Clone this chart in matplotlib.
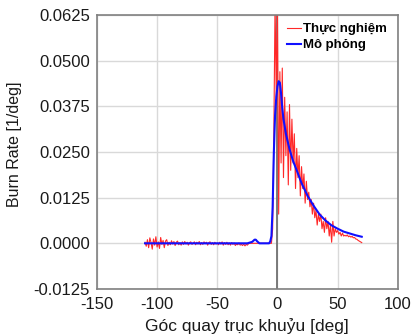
#!/usr/bin/env python3
import matplotlib
matplotlib.use('Agg')
import matplotlib.pyplot as plt
import numpy as np

plt.rcParams['font.family'] = ['Liberation Sans', 'DejaVu Sans']
plt.rcParams['axes.unicode_minus'] = False

# measured burn rate, one value per degree from -110 to 70
exp_angle = np.arange(-110, 71)
exp_rate = [
    0.0003, -0.0008, 0.0010, -0.0012, 0.0015, 0.0002, -0.0016, 0.0012, -0.0005, 0.0018,
    -0.0010, 0.0004, -0.0014, 0.0016, -0.0003, 0.0008, -0.0012, 0.0006, 0.0010, -0.0006,
    0.0003,
    -0.0004, 0.0007, -0.0002, 0.0005, -0.0006, 0.0003, 0.0006, -0.0004, 0.0002, -0.0005,
    0.0004, -0.0003, 0.0005, -0.0002, 0.0003, -0.0005, 0.0002, 0.0004, -0.0003, 0.0001,
    0.0004, -0.0004, 0.0003, -0.0002, 0.0005, -0.0004, 0.0002, -0.0003, 0.0004, -0.0001,
    0.0003, -0.0005, 0.0002, 0.0004, -0.0003, 0.0002, -0.0004, 0.0003, -0.0002, 0.0001,
    -0.0004, 0.0003, -0.0002, 0.0004, -0.0005, 0.0002, -0.0003, 0.0003, -0.0004, 0.0001,
    -0.0005, 0.0002, -0.0003, 0.0001, -0.0006, -0.0002, -0.0004, 0.0001, -0.0005, -0.0003,
    -0.0006, -0.0002, -0.0007, -0.0003, -0.0005, -0.0001, 0.0, 0.0,
    0.0, 0.0, 0.0, 0.0, 0.0, 0.0, 0.0, 0.0, 0.0, 0.0, 0.0, 0.0, 0.0, 0.0, 0.0, 0.0, 0.0,
    0.004, 0.030, 0.066, 0.040, 0.066,
    0.008, 0.047, 0.022, 0.048, 0.018, 0.040, 0.024, 0.036, 0.016, 0.038,
    0.020, 0.034, 0.022, 0.030, 0.015, 0.026, 0.018, 0.024, 0.013, 0.021,
    0.015, 0.019, 0.011, 0.017, 0.012, 0.014, 0.010, 0.012, 0.008, 0.011,
    0.007, 0.009, 0.005, 0.008, 0.006, 0.008, 0.004, 0.006, 0.003, 0.007,
    0.004, 0.006, 0.002, 0.005, 0.0003, 0.006, 0.002, 0.004, 0.003, 0.0035,
    0.0025, 0.003, 0.002, 0.0028, 0.002, 0.0022, 0.002, 0.0023, 0.0018, 0.0020,
    0.0017, 0.0019, 0.0015, 0.0016, 0.0012, 0.0011, 0.0008, 0.0006, 0.0004, 0.0002,
]

# simulated burn rate
sim_angle = [-110, -25, -21, -19, -18, -17, -15, -7, -6, -5, -4, -3, -2, -1, 0, 1, 2, 3, 4, 5,
             7, 10, 13, 16, 20, 25, 30, 35, 40, 45, 50, 55, 60, 65, 70]
sim_rate = [0.0, 0.0, 0.0004, 0.001, 0.001, 0.0006, 0.0, 0.0, 0.0005, 0.002, 0.010, 0.025,
            0.035, 0.040, 0.0430, 0.0444, 0.0440, 0.0410, 0.0370, 0.0340,
            0.0300, 0.0258, 0.0225, 0.0200, 0.0165, 0.0130, 0.0103, 0.0079, 0.0062, 0.0049,
            0.0040, 0.0032, 0.0027, 0.0022, 0.0018]

fig = plt.figure(figsize=(4.14, 3.36), dpi=100)
ax = fig.add_axes([0.234, 0.140, 0.727, 0.815])

ax.grid(True, color='#d9d9d9', linewidth=1.0)
ax.set_axisbelow(True)
ax.axvline(0, color='#707070', linewidth=1.3, zorder=1)

ax.plot(exp_angle, exp_rate, color='#ff2828', linewidth=0.8, label='Thực nghiệm', zorder=2)
ax.plot(sim_angle, sim_rate, color='#1010ff', linewidth=1.5, label='Mô phỏng', zorder=3)

ax.set_xlim(-150, 100)
ax.set_ylim(-0.0125, 0.0625)
ax.set_xticks([-150, -100, -50, 0, 50, 100])
ax.set_yticks([-0.0125, 0.0, 0.0125, 0.025, 0.0375, 0.05, 0.0625])
ax.set_yticklabels(['-0.0125', '0.0000', '0.0125', '0.0250', '0.0375', '0.0500', '0.0625'])
ax.tick_params(length=0, labelsize=12, colors='#1a1a1a')
ax.tick_params(axis='x', pad=6)
ax.tick_params(axis='y', pad=5)

for s in ax.spines.values():
    s.set_color('#808080')
    s.set_linewidth(1.2)

ax.set_xlabel('Góc quay trục khuỷu [deg]', fontsize=12.5, color='#1a1a1a')
ax.xaxis.set_label_coords(0.5, -0.105)
ax.set_ylabel('Burn Rate [1/deg]', fontsize=11.5, color='#1a1a1a')
ax.yaxis.set_label_coords(-0.25, 0.53)

leg = ax.legend(loc='upper right', frameon=False, fontsize=9.5, handlelength=1.1,
                handletextpad=0.15, labelspacing=0.3, borderaxespad=0.2,
                bbox_to_anchor=(0.99, 1.0))
for t in leg.get_texts():
    t.set_fontweight('bold')

plt.savefig('out.png', dpi=100)
